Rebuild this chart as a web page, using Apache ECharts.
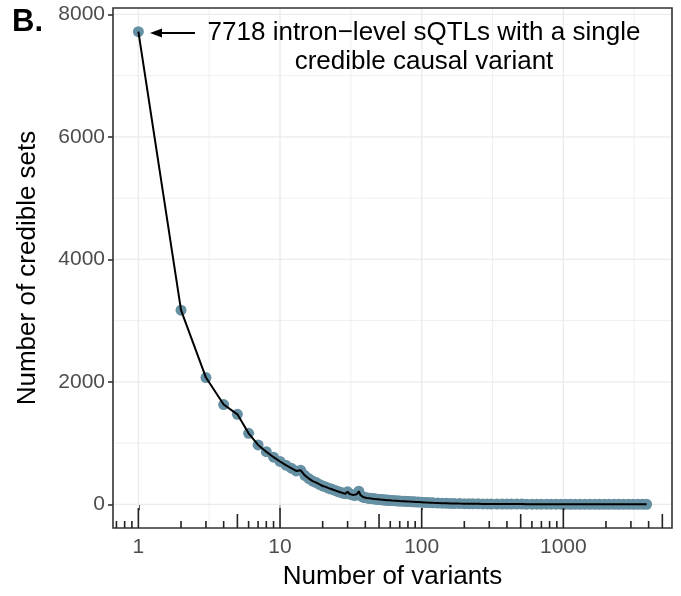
<!DOCTYPE html>
<html>
<head>
<meta charset="utf-8">
<script src="https://cdn.jsdelivr.net/npm/echarts@6/dist/echarts.min.js"></script>
<style>
html, body { margin: 0; padding: 0; background: #fff; }
#chart { width: 681px; height: 596px; }
</style>
</head>
<body>
<div id="chart"></div>
<script>
// credible set size (number of variants) and how many sets have that size
const variants = [
  1, 2, 3, 4, 5, 6, 7, 8, 9, 10, 11, 12, 13, 14, 15, 16, 17, 18, 19, 20,
  21, 22, 23, 24, 25, 26, 27, 28, 29, 30, 31, 32, 33, 34, 35, 36, 37, 38, 39, 40,
  41, 42, 43, 44, 45, 46, 47, 48, 49, 50, 51, 52, 53, 54, 55, 56, 57, 58, 59, 60,
  62, 64, 66, 68, 70, 73, 76, 79, 82, 85, 88, 91, 95, 100, 105, 110, 115, 120, 130, 140,
  150, 160, 170, 185, 200, 215, 230, 250, 270, 290, 310, 340, 370, 400, 430, 470, 510, 550, 600, 650,
  700, 760, 820, 890, 960, 1040, 1120, 1210, 1310, 1420, 1540, 1670, 1800, 1950, 2100, 2280, 2460, 2660, 2880, 3110,
  3360, 3620, 3873
];
const credibleSets = [
  7718, 3170, 2070, 1630, 1470, 1160, 970, 860, 770, 700, 640, 590, 545, 555, 470, 420, 380, 355, 325, 300,
  285, 265, 250, 235, 220, 205, 195, 180, 175, 205, 170, 160, 150, 145, 170, 215, 150, 125, 115, 110,
  105, 100, 98, 95, 92, 90, 87, 85, 83, 80, 78, 76, 75, 73, 72, 70, 68, 67, 66, 65,
  62, 60, 58, 56, 54, 52, 50, 48, 46, 44, 42, 40, 38, 35, 32, 29, 27, 25, 22, 19,
  17, 15, 14, 12, 11, 10, 9, 8, 7, 7, 6, 6, 5, 5, 4, 4, 4, 3, 3, 3,
  3, 2, 2, 2, 2, 2, 1, 1, 1, 1, 1, 1, 1, 1, 1, 1, 1, 1, 1, 1,
  1, 1, 1
];

const xLabels = [1, 10, 100, 1000];
const yLabels = [0, 2000, 4000, 6000, 8000];
const xMinorGrid = [3.162, 31.62, 316.2, 3162];
const yMinorGrid = [1000, 3000, 5000, 7000];
// annotation_logticks style marks along the bottom
const logTicksLong = [1, 10, 100, 1000];
const logTicksMid = [5, 50, 500, 5000];
const logTicksShort = [0.7, 0.8, 0.9, 2, 3, 4, 6, 7, 8, 9, 20, 30, 40, 60, 70, 80, 90,
  200, 300, 400, 600, 700, 800, 900, 2000, 3000, 4000];

const FONT = '"Liberation Sans", Arial, Helvetica, sans-serif';

function gridSeries(values, vertical, width) {
  return {
    type: 'custom',
    silent: true,
    z: 1,
    data: values.map(v => vertical ? [v, 0] : [1, v]),
    renderItem: function (params, api) {
      const cs = params.coordSys;
      if (vertical) {
        const px = api.coord([api.value(0), 0])[0];
        return { type: 'line', shape: { x1: px, y1: cs.y + 1, x2: px, y2: cs.y + cs.height - 1 },
          style: { stroke: '#ebebeb', lineWidth: width } };
      }
      const py = api.coord([1, api.value(1)])[1];
      return { type: 'line', shape: { x1: cs.x + 1, y1: py, x2: cs.x + cs.width - 1, y2: py },
        style: { stroke: '#ebebeb', lineWidth: width } };
    }
  };
}

function tickSeries(values, len) {
  return {
    type: 'custom',
    silent: true,
    z: 5,
    data: values.map(v => [v, 0]),
    renderItem: function (params, api) {
      const cs = params.coordSys;
      const px = api.coord([api.value(0), 0])[0];
      const bottom = cs.y + cs.height;
      return { type: 'line', shape: { x1: px, y1: bottom, x2: px, y2: bottom - len },
        style: { stroke: '#222', lineWidth: 1.6 } };
    }
  };
}

const points = variants.map((v, i) => [v, credibleSets[i]]);

const chart = echarts.init(document.getElementById('chart'));
chart.setOption({
  animation: false,
  textStyle: { fontFamily: FONT },
  grid: {
    left: 113, right: 9, top: 8, bottom: 68,
    show: true, borderColor: '#333', borderWidth: 1.6, backgroundColor: 'transparent'
  },
  xAxis: {
    type: 'log',
    logBase: 10,
    min: 0.662,
    max: 5850,
    name: 'Number of variants',
    nameLocation: 'middle',
    nameGap: 36,
    nameTextStyle: { fontSize: 26, color: '#000', fontFamily: FONT },
    axisLine: { show: false },
    splitLine: { show: false },
    axisTick: { show: true, inside: false, length: 6, customValues: xLabels,
      lineStyle: { color: '#222', width: 1.6 } },
    axisLabel: { customValues: xLabels, fontSize: 21, color: '#4d4d4d', margin: 9,
      fontFamily: FONT, formatter: v => String(Math.round(v)) }
  },
  yAxis: {
    type: 'value',
    min: -386,
    max: 8104,
    name: 'Number of credible sets',
    nameLocation: 'middle',
    nameGap: 72,
    nameTextStyle: { fontSize: 26, color: '#000', fontFamily: FONT },
    axisLine: { show: false },
    splitLine: { show: false },
    axisTick: { show: true, inside: false, length: 5, customValues: yLabels,
      lineStyle: { color: '#333', width: 1.6 } },
    axisLabel: { customValues: yLabels, fontSize: 21, color: '#4d4d4d', margin: 8,
      fontFamily: FONT, formatter: v => String(Math.round(v)) }
  },
  series: [
    gridSeries(xLabels, true, 1.4),
    gridSeries(xMinorGrid, true, 0.8),
    gridSeries(yLabels, false, 1.4),
    gridSeries(yMinorGrid, false, 0.8),
    {
      type: 'scatter',
      z: 2,
      data: points,
      symbol: 'circle',
      symbolSize: 11,
      itemStyle: { color: '#6690a3', opacity: 1 },
      silent: true
    },
    {
      type: 'line',
      z: 3,
      data: points,
      showSymbol: false,
      symbol: 'none',
      lineStyle: { color: '#000', width: 2 },
      silent: true
    },
    tickSeries(logTicksLong, 20),
    tickSeries(logTicksMid, 14),
    tickSeries(logTicksShort, 7)
  ],
  graphic: [
    { type: 'text', left: 12, top: 7, z: 100,
      style: { text: 'B.', font: 'bold 31px ' + FONT, fill: '#000' } },
    { type: 'line', z: 100, shape: { x1: 158, y1: 33, x2: 195, y2: 33 },
      style: { stroke: '#000', lineWidth: 2 } },
    { type: 'polygon', z: 100, shape: { points: [[150, 33], [162, 28.5], [162, 37.5]] },
      style: { fill: '#000' } },
    { type: 'text', z: 100, x: 424, y: 33,
      style: { text: '7718 intron\u2212level sQTLs with a single', font: '26px ' + FONT,
        fill: '#000', align: 'center', verticalAlign: 'middle' } },
    { type: 'text', z: 100, x: 424, y: 62,
      style: { text: 'credible causal variant', font: '26px ' + FONT,
        fill: '#000', align: 'center', verticalAlign: 'middle' } }
  ]
});
</script>
</body>
</html>
